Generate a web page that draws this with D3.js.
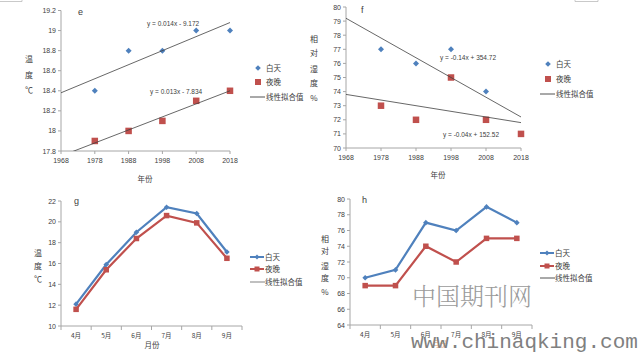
<!DOCTYPE html>
<html>
<head>
<meta charset="utf-8">
<script src="https://cdn.jsdelivr.net/npm/d3@7"></script>
<style>
  body { margin: 0; background: #fff; }
  svg { display: block; font-family: "Liberation Sans", Arial, sans-serif; }
</style>
</head>
<body>
<div id="chart"></div>
<script>
// dữ liệu các năm (biểu đồ e, f)
const years = [1978, 1988, 1998, 2008, 2018];
const yearTicks = [1968, 1978, 1988, 1998, 2008, 2018];
const eDay = [18.4, 18.8, 18.8, 19.0, 19.0];
const eNight = [17.9, 18.0, 18.1, 18.3, 18.4];
const eDayFit = [0.014, -9.172];
const eNightFit = [0.013, -7.834];
const fDay = [77, 76, 77, 74, 71];
const fNight = [73, 72, 75, 72, 71];
const fDayFit = [-0.14, 354.72];
const fNightFit = [-0.04, 152.52];

// dữ liệu theo tháng (biểu đồ g, h)
const months = ["4月", "5月", "6月", "7月", "8月", "9月"];
const gDay = [12.1, 15.9, 19.0, 21.4, 20.8, 17.1];
const gNight = [11.6, 15.4, 18.4, 20.6, 19.9, 16.5];
const hDay = [70, 71, 77, 76, 79, 77];
const hNight = [69, 69, 74, 72, 75, 75];

const eYTicks = [17.8, 18, 18.2, 18.4, 18.6, 18.8, 19, 19.2];
const fYTicks = [70, 71, 72, 73, 74, 75, 76, 77, 78, 79, 80];
const gYTicks = [10, 12, 14, 16, 18, 20, 22];
const hYTicks = [64, 66, 68, 70, 72, 74, 76, 78, 80];
const legendNames = ["白天", "夜晚", "线性拟合值"];

const blue = "#4f81bd", red = "#c0504d";
const axisColor = "#a6a6a6", textColor = "#404040";
const cjk = "'Noto Sans CJK SC', sans-serif";

const svg = d3.select("#chart").append("svg")
    .attr("width", 639).attr("height", 354);

// mảnh viền còn sót ở mép trên
svg.append("path").attr("d", "M0,1.5H22V-1").attr("fill", "none").attr("stroke", "#bbb").attr("stroke-width", 0.8);
svg.append("path").attr("d", "M575,-1V1.5H598V-1").attr("fill", "none").attr("stroke", "#bbb").attr("stroke-width", 0.8);

const fmt = d => String(+d.toFixed(1));

function diamond(g, x, y, r, color) {
    g.append("path")
        .attr("d", `M${x},${y - r}L${x + r},${y}L${x},${y + r}L${x - r},${y}Z`)
        .attr("fill", color);
}
function square(g, x, y, s, color) {
    g.append("rect").attr("x", x - s / 2).attr("y", y - s / 2)
        .attr("width", s).attr("height", s).attr("fill", color);
}

function yLabel(g, x, chars, ys) {
    chars.forEach((c, i) => {
        g.append("text").attr("x", x).attr("y", ys[i])
            .attr("text-anchor", "middle").attr("font-size", 8)
            .attr("font-family", cjk).attr("fill", textColor).text(c);
    });
}

function yAxis(g, y, x0, ticks) {
    g.append("line").attr("x1", x0).attr("x2", x0)
        .attr("y1", y.range()[0]).attr("y2", y.range()[1]).attr("stroke", axisColor);
    ticks.forEach(t => {
        g.append("line").attr("x1", x0 - 3).attr("x2", x0)
            .attr("y1", y(t)).attr("y2", y(t)).attr("stroke", axisColor);
        g.append("text").attr("x", x0 - 5).attr("y", y(t) + 2.5)
            .attr("text-anchor", "end").attr("font-size", 7).attr("fill", textColor)
            .text(fmt(t));
    });
}

function legend(g, x, ys, kind, trendColor) {
    // kind: "scatter" hoặc "line"
    if (kind === "scatter") {
        diamond(g, x + 8, ys[0], 2.8, blue);
        square(g, x + 8, ys[1], 6, red);
    } else {
        g.append("line").attr("x1", x).attr("x2", x + 14).attr("y1", ys[0]).attr("y2", ys[0])
            .attr("stroke", blue).attr("stroke-width", 2);
        diamond(g, x + 7, ys[0], 2.5, blue);
        g.append("line").attr("x1", x).attr("x2", x + 14).attr("y1", ys[1]).attr("y2", ys[1])
            .attr("stroke", red).attr("stroke-width", 2);
        square(g, x + 7, ys[1], 5, red);
    }
    g.append("line").attr("x1", x).attr("x2", x + 15).attr("y1", ys[2]).attr("y2", ys[2])
        .attr("stroke", trendColor).attr("stroke-width", kind === "line" && trendColor !== "#404040" ? 1.6 : 0.9);
    legendNames.forEach((n, i) => {
        g.append("text").attr("x", x + (kind === "scatter" ? 16 : 15)).attr("y", ys[i] + 3)
            .attr("font-size", 7.5).attr("font-family", cjk).attr("fill", textColor).text(n);
    });
}

let clipId = 0;
function scatterPanel(cfg) {
    const g = svg.append("g");
    const x = d3.scaleLinear().domain([1968, 2018]).range(cfg.xr);
    const y = d3.scaleLinear().domain(d3.extent(cfg.yTicks)).range(cfg.yr);

    yAxis(g, y, cfg.xr[0], cfg.yTicks);
    g.append("line").attr("x1", cfg.xr[0]).attr("x2", cfg.xr[1])
        .attr("y1", cfg.yr[0]).attr("y2", cfg.yr[0]).attr("stroke", axisColor);
    yearTicks.forEach(t => {
        g.append("line").attr("x1", x(t)).attr("x2", x(t))
            .attr("y1", cfg.yr[0]).attr("y2", cfg.yr[0] + 3).attr("stroke", axisColor);
        g.append("text").attr("x", x(t)).attr("y", cfg.yr[0] + 12)
            .attr("text-anchor", "middle").attr("font-size", 7).attr("fill", textColor).text(t);
    });

    years.forEach((yr, i) => diamond(g, x(yr), y(cfg.day[i]), 3, blue));
    years.forEach((yr, i) => square(g, x(yr), y(cfg.night[i]), 6.5, red));

    // đường hồi quy tuyến tính (cắt theo vùng vẽ)
    const id = "clip" + (clipId++);
    svg.append("clipPath").attr("id", id).append("rect")
        .attr("x", cfg.xr[0]).attr("y", cfg.yr[1])
        .attr("width", cfg.xr[1] - cfg.xr[0]).attr("height", cfg.yr[0] - cfg.yr[1]);
    [cfg.dayFit, cfg.nightFit].forEach(([k, b]) => {
        g.append("line").attr("clip-path", `url(#${id})`)
            .attr("x1", x(1968)).attr("y1", y(k * 1968 + b))
            .attr("x2", x(2018)).attr("y2", y(k * 2018 + b))
            .attr("stroke", "#404040").attr("stroke-width", 0.8);
    });

    cfg.eq.forEach(e => {
        g.append("text").attr("x", e[0]).attr("y", e[1]).attr("font-size", 6.5)
            .attr("fill", textColor).text(e[2]);
    });
    g.append("text").attr("x", cfg.tag[0]).attr("y", cfg.tag[1]).attr("font-size", 9)
        .attr("fill", textColor).text(cfg.tag[2]);
    g.append("text").attr("x", cfg.xlab[0]).attr("y", cfg.xlab[1]).attr("text-anchor", "middle")
        .attr("font-size", 7.5).attr("font-family", cjk).attr("fill", textColor).text("年份");
    yLabel(g, cfg.ylab.x, cfg.ylab.chars, cfg.ylab.ys);
    legend(g, cfg.leg[0], cfg.leg[1], "scatter", "#404040");
}

function linePanel(cfg) {
    const g = svg.append("g");
    const x = d3.scaleBand().domain(months).range(cfg.xr);
    const y = d3.scaleLinear().domain(d3.extent(cfg.yTicks)).range(cfg.yr);
    const cx = m => x(m) + x.bandwidth() / 2;

    yAxis(g, y, cfg.xr[0], cfg.yTicks);
    g.append("line").attr("x1", cfg.xr[0]).attr("x2", cfg.xr[1])
        .attr("y1", cfg.yr[0]).attr("y2", cfg.yr[0]).attr("stroke", axisColor);
    months.concat([null]).forEach((m, i) => {
        const px = m ? x(m) : cfg.xr[1];
        g.append("line").attr("x1", px).attr("x2", px)
            .attr("y1", cfg.yr[0]).attr("y2", cfg.yr[0] + 4).attr("stroke", axisColor);
    });
    months.forEach(m => {
        g.append("text").attr("x", cx(m)).attr("y", cfg.yr[0] + 12)
            .attr("text-anchor", "middle").attr("font-size", 6.5).attr("font-family", cjk)
            .attr("fill", textColor).text(m);
    });

    const line = d3.line().x((d, i) => cx(months[i])).y(d => y(d));
    g.append("path").datum(cfg.day).attr("d", line).attr("fill", "none")
        .attr("stroke", blue).attr("stroke-width", 2.2);
    cfg.day.forEach((v, i) => diamond(g, cx(months[i]), y(v), 2.8, blue));
    g.append("path").datum(cfg.night).attr("d", line).attr("fill", "none")
        .attr("stroke", red).attr("stroke-width", 2.2);
    cfg.night.forEach((v, i) => square(g, cx(months[i]), y(v), 5.5, red));

    g.append("text").attr("x", cfg.tag[0]).attr("y", cfg.tag[1]).attr("font-size", 9)
        .attr("fill", textColor).text(cfg.tag[2]);
    g.append("text").attr("x", cfg.xlab[0]).attr("y", cfg.xlab[1]).attr("text-anchor", "middle")
        .attr("font-size", 7.5).attr("font-family", cjk).attr("fill", cfg.xlab[2]).text("月份");
    yLabel(g, cfg.ylab.x, cfg.ylab.chars, cfg.ylab.ys);
    legend(g, cfg.leg[0], cfg.leg[1], "line", cfg.trendColor);
}

scatterPanel({
    xr: [61, 230], yr: [151, 10.5], yTicks: eYTicks,
    day: eDay, night: eNight, dayFit: eDayFit, nightFit: eNightFit,
    eq: [[147, 26, "y = 0.014x - 9.172"], [150, 94, "y = 0.013x - 7.834"]],
    tag: [78, 15, "e"], xlab: [145, 182],
    ylab: { x: 29, chars: ["温", "度", "℃"], ys: [62, 78, 93] },
    leg: [250, [68, 82, 97]]
});

scatterPanel({
    xr: [346, 521], yr: [148, 7], yTicks: fYTicks,
    day: fDay, night: fNight, dayFit: fDayFit, nightFit: fNightFit,
    eq: [[440, 60, "y = -0.14x + 354.72"], [443, 137, "y = -0.04x + 152.52"]],
    tag: [361, 13, "f"], xlab: [438, 178],
    ylab: { x: 314, chars: ["相", "对", "湿", "度", "%"], ys: [42, 56, 72, 86, 101] },
    leg: [540, [64, 79, 94]]
});

linePanel({
    xr: [61, 242], yr: [326, 201], yTicks: gYTicks,
    day: gDay, night: gNight,
    tag: [74, 204, "g"], xlab: [152, 348, textColor],
    ylab: { x: 38, chars: ["温", "度", "℃"], ys: [256, 269, 282] },
    leg: [250, [257, 269, 282]], trendColor: "#b0b0b0"
});

linePanel({
    xr: [350, 532], yr: [325, 199], yTicks: hYTicks,
    day: hDay, night: hNight,
    tag: [362, 203, "h"], xlab: [440, 347, "#e0a070"],
    ylab: { x: 325, chars: ["相", "对", "湿", "度", "%"], ys: [242, 254, 269, 281, 295] },
    leg: [540, [253, 266, 278]], trendColor: "#404040"
});

// watermark
svg.append("text").attr("x", 412).attr("y", 305).attr("font-size", 24)
    .attr("font-family", "'Noto Serif CJK SC', 'Noto Sans CJK SC', serif").attr("font-weight", 300)
    .attr("fill", "#9a9a9a").attr("letter-spacing", 0).text("中国期刊网");
svg.append("text").attr("x", 411).attr("y", 348).attr("font-size", 21)
    .attr("font-family", "'Liberation Mono', 'DejaVu Sans Mono', monospace")
    .attr("fill", "#808080").text("www.chinaqking.com");
</script>
</body>
</html>
